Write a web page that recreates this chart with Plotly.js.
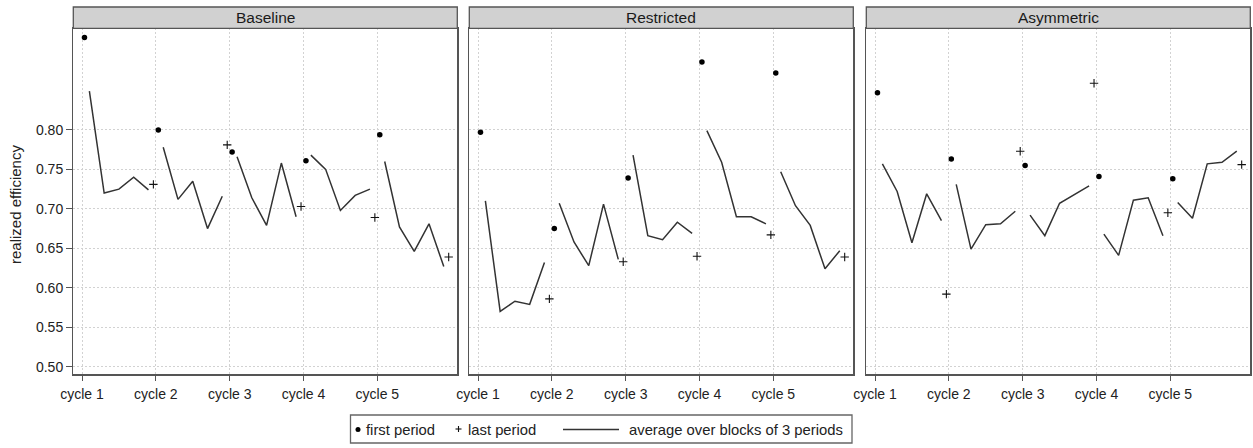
<!DOCTYPE html>
<html>
<head>
<meta charset="utf-8">
<script src="https://cdn.plot.ly/plotly-3.0.1.min.js"></script>
<style>html,body{margin:0;padding:0;background:#fff;}#chart{width:1253px;height:448px;}</style>
</head>
<body>
<div id="chart"></div>
<script>
// ---- data ----
const treatments = ["Baseline", "Restricted", "Asymmetric"];
const cycleLabels = ["cycle 1", "cycle 2", "cycle 3", "cycle 4", "cycle 5"];
const yTickVals = [0.50, 0.55, 0.60, 0.65, 0.70, 0.75, 0.80];

// first period of each cycle
const baselineFirst   = [0.917, 0.800, 0.772, 0.761, 0.794];
const restrictedFirst = [0.797, 0.675, 0.739, 0.886, 0.872];
const asymmetricFirst = [0.847, 0.763, 0.755, 0.741, 0.738];

// last period of each cycle
const baselineLast   = [0.731, 0.781, 0.703, 0.689, 0.639];
const restrictedLast = [0.586, 0.633, 0.640, 0.667, 0.639];
const asymmetricLast = [0.592, 0.773, 0.859, 0.695, 0.756];

// averages over blocks of 3 periods (5 blocks per cycle)
const baselineAvg = [
  0.849, 0.720, 0.725, 0.740, 0.724,
  0.778, 0.712, 0.735, 0.675, 0.716,
  0.766, 0.714, 0.679, 0.758, 0.690,
  0.768, 0.750, 0.698, 0.717, 0.725,
  0.760, 0.677, 0.646, 0.681, 0.627
];
const restrictedAvg = [
  0.710, 0.570, 0.583, 0.579, 0.632,
  0.707, 0.658, 0.628, 0.706, 0.636,
  0.768, 0.666, 0.661, 0.683, 0.669,
  0.799, 0.759, 0.690, 0.690, 0.681,
  0.747, 0.704, 0.679, 0.624, 0.647
];
const asymmetricAvg = [
  0.757, 0.722, 0.657, 0.719, 0.685,
  0.731, 0.649, 0.680, 0.681, 0.697,
  0.692, 0.666, 0.707, 0.718, 0.729,
  0.668, 0.641, 0.711, 0.714, 0.666,
  0.708, 0.688, 0.757, 0.759, 0.773
];

const firstData = [baselineFirst, restrictedFirst, asymmetricFirst];
const lastData  = [baselineLast, restrictedLast, asymmetricLast];
const avgData   = [baselineAvg, restrictedAvg, asymmetricAvg];

// ---- geometry ----
const W = 1253, H = 448;
const PERIODS = 15, BLOCK = 3;
const px = v => v / W;
const py = v => 1 - v / H;
const panelLeft = [73.3, 469.3, 866.3];
const panelW = 384;
const plotTop = 28.3, plotBottom = 374.3, stripTop = 7;
const FONT = "Liberation Sans, Arial, sans-serif";

const traces = [];
const axisSuffix = ["", "2", "3"];
for (let p = 0; p < 3; p++) {
  const xa = "x" + axisSuffix[p], ya = "y" + axisSuffix[p];
  // average line, broken between cycles
  const lx = [], ly = [];
  avgData[p].forEach((v, i) => {
    if (i > 0 && i % (PERIODS / BLOCK) === 0) { lx.push(null); ly.push(null); }
    lx.push(i * BLOCK + BLOCK / 2);
    ly.push(v);
  });
  traces.push({x: lx, y: ly, xaxis: xa, yaxis: ya, mode: "lines", type: "scatter",
    line: {color: "#333", width: 1.5}, connectgaps: false, showlegend: false, hoverinfo: "y"});
  traces.push({x: firstData[p].map((v, k) => k * PERIODS + 0.5), y: firstData[p], xaxis: xa, yaxis: ya,
    mode: "markers", type: "scatter", marker: {symbol: "circle", size: 5.5, color: "#000"},
    showlegend: false, hoverinfo: "y"});
  traces.push({x: lastData[p].map((v, k) => k * PERIODS + PERIODS - 0.5), y: lastData[p], xaxis: xa, yaxis: ya,
    mode: "markers", type: "scatter",
    marker: {symbol: "cross-thin", size: 6, color: "#000", line: {color: "#111", width: 1.1}},
    showlegend: false, hoverinfo: "y"});
}

const layout = {
  width: W, height: H,
  margin: {l: 0, r: 0, t: 0, b: 0},
  paper_bgcolor: "#fff", plot_bgcolor: "#fff",
  font: {family: FONT, size: 14, color: "#222"},
  showlegend: false,
  shapes: [], annotations: []
};

for (let p = 0; p < 3; p++) {
  const x0 = px(panelLeft[p]), x1 = px(panelLeft[p] + panelW);
  layout["xaxis" + axisSuffix[p]] = {
    domain: [x0, x1], anchor: "y" + axisSuffix[p],
    range: [-1.77, 76.25],
    tickvals: [0, 15, 30, 45, 60], ticktext: cycleLabels,
    ticks: "outside", ticklen: 5, tickcolor: "#555", tickwidth: 1, ticklabelstandoff: 2,
    showgrid: true, gridcolor: "#d2d2d2", griddash: "2px,2px", gridwidth: 1,
    showline: true, mirror: true, linecolor: "#555", linewidth: 1.3,
    zeroline: false, tickfont: {family: FONT, size: 14, color: "#222"}, fixedrange: true
  };
  layout["yaxis" + axisSuffix[p]] = {
    domain: [py(plotBottom), py(plotTop)], anchor: "x" + axisSuffix[p],
    range: [0.4904, 0.9287],
    tickvals: yTickVals, tickformat: ".2f",
    showticklabels: p === 0, ticks: p === 0 ? "outside" : "", ticklen: 6, tickcolor: "#555",
    showgrid: true, gridcolor: "#d2d2d2", griddash: "2px,2px", gridwidth: 1,
    showline: true, mirror: true, linecolor: "#555", linewidth: 1.3,
    zeroline: false, tickfont: {family: FONT, size: 14, color: "#222"}, fixedrange: true
  };
  // strip
  layout.shapes.push({type: "rect", xref: "paper", yref: "paper",
    x0: x0, x1: x1, y0: py(plotTop), y1: py(stripTop),
    fillcolor: "#d1d1d1", line: {color: "#555", width: 1.3}});
  layout.annotations.push({xref: "paper", yref: "paper", x: (x0 + x1) / 2, y: py((stripTop + plotTop) / 2),
    text: treatments[p], showarrow: false, xanchor: "center", yanchor: "middle",
    font: {family: FONT, size: 15.5, color: "#1a1a1a"}});
}

// y axis title
layout.annotations.push({xref: "paper", yref: "paper", x: px(15), y: py(205), text: "realized efficiency",
  textangle: -90, showarrow: false, xanchor: "center", yanchor: "middle", font: {family: FONT, size: 15, color: "#222"}});

// legend box
const legTop = 415, legBottom = 443, legMid = 429.5;
layout.shapes.push({type: "rect", xref: "paper", yref: "paper", x0: px(350.5), x1: px(852), y0: py(legBottom), y1: py(legTop),
  fillcolor: "#fff", line: {color: "#666", width: 1.3}});
layout.shapes.push({type: "circle", xref: "paper", yref: "paper", x0: px(355.5), x1: px(360.5), y0: py(legMid + 2.5), y1: py(legMid - 2.5),
  fillcolor: "#000", line: {color: "#000", width: 0}});
layout.shapes.push({type: "line", xref: "paper", yref: "paper", x0: px(455.5), x1: px(461.5), y0: py(legMid - 0.5), y1: py(legMid - 0.5),
  line: {color: "#111", width: 1.1}});
layout.shapes.push({type: "line", xref: "paper", yref: "paper", x0: px(458.5), x1: px(458.5), y0: py(legMid - 3.5), y1: py(legMid + 2.5),
  line: {color: "#111", width: 1.1}});
layout.shapes.push({type: "line", xref: "paper", yref: "paper", x0: px(563), x1: px(619), y0: py(legMid), y1: py(legMid),
  line: {color: "#333", width: 1.5}});
const legTexts = [["first period", 364], ["last period", 466], ["average over blocks of 3 periods", 627]];
legTexts.forEach(([t, x]) => layout.annotations.push({xref: "paper", yref: "paper", x: px(x), y: py(legMid),
  text: t, showarrow: false, xanchor: "left", yanchor: "middle", font: {family: FONT, size: 14.8, color: "#222"}}));

Plotly.newPlot("chart", traces, layout, {displayModeBar: false, staticPlot: true});
</script>
</body>
</html>
